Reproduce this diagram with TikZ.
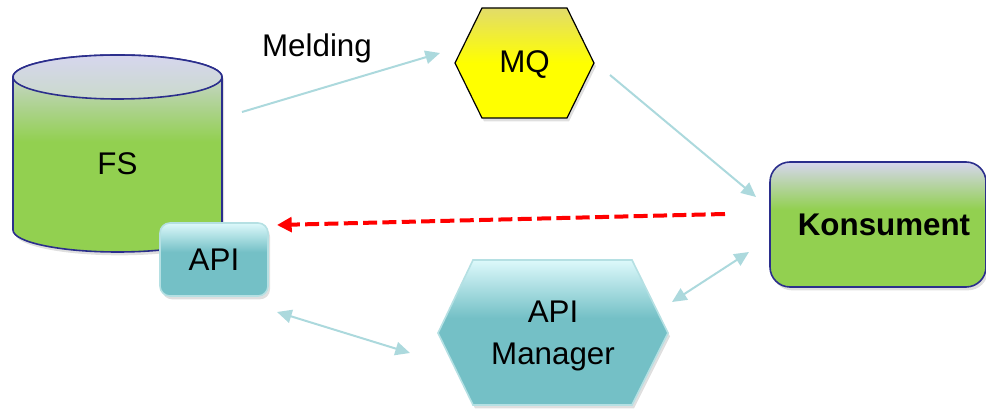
\documentclass[tikz,border=0pt]{standalone}
\usepackage{fontspec}
\setmainfont{Liberation Sans}
\usetikzlibrary{arrows.meta,shadows}
\definecolor{lav}{HTML}{D6D6EE}
\definecolor{lidb}{HTML}{CADACB}
\definecolor{grn}{HTML}{92D050}
\definecolor{navy}{HTML}{2B2E8C}
\definecolor{tealc}{HTML}{74C0C6}
\definecolor{lcyan}{HTML}{DDF9FB}
\definecolor{ylw}{HTML}{FFFF00}
\definecolor{ytop}{HTML}{E2DC6A}
\definecolor{conn}{HTML}{ACD9DD}
\definecolor{tealedge}{HTML}{B5E0E3}
\pgfdeclareverticalshading{greenfade}{100bp}{color(0bp)=(grn); color(53bp)=(grn); color(75bp)=(lav); color(100bp)=(lav)}
\pgfdeclareverticalshading{kfade}{100bp}{color(0bp)=(grn); color(56bp)=(grn); color(75bp)=(lav); color(100bp)=(lav)}
\pgfdeclareverticalshading{tealfade}{100bp}{color(0bp)=(tealc); color(55bp)=(tealc); color(75bp)=(lcyan); color(100bp)=(lcyan)}
\pgfdeclareverticalshading{yellowfade}{100bp}{color(0bp)=(ylw); color(50bp)=(ylw); color(75bp)=(ytop); color(100bp)=(ytop)}
\pgfdeclareverticalshading{lidfade}{100bp}{color(0bp)=(lidb); color(25bp)=(lidb); color(75bp)=(lav); color(100bp)=(lav)}
\tikzset{
  shad/.style={drop shadow={opacity=0.25, shadow xshift=1.5pt, shadow yshift=-2.5pt}},
  conn/.style={draw=conn, line width=1.5pt},
  tip/.tip={Triangle[length=11pt,width=10pt]},
  redtip/.tip={Triangle[length=11pt,width=11pt]},
  lbl/.style={inner sep=0pt},
}
\begin{document}
\begin{tikzpicture}[x=0.75pt,y=-0.75pt, font=\fontsize{23.5}{31.5}\selectfont]
\useasboundingbox (0,0) rectangle (986,409);
% cylinder FS
\path[shad, shading=greenfade, draw=navy, line width=1.2pt]
  (13,77) -- (13,230) arc[start angle=180, end angle=360, x radius=78.375pt, y radius=16.5pt]
  -- (222,77) arc[start angle=0, end angle=180, x radius=78.375pt, y radius=16.5pt] -- cycle;
\path[shading=lidfade, draw=navy, line width=1.2pt] (117.5,77) ellipse [x radius=78.375pt, y radius=16.5pt];
\node[lbl] (fs) at (117.5,164) {FS};
% API box
\node[lbl, shad, shading=tealfade, draw=tealedge, line width=1.2pt, rounded corners=7.5pt,
  minimum width=81pt, minimum height=54.75pt] (api) at (214,259.5) {API};
% MQ
\path[shad, shading=yellowfade, draw=black, line width=0.9pt]
  (455,63) -- (482,8) -- (567,8) -- (594,63) -- (567,118) -- (482,118) -- cycle;
\node[lbl] (mq) at (524.5,65) {MQ};
% Konsument
\path[shad, shading=kfade, draw=navy, line width=1.2pt, rounded corners=15pt]
  (770,162) rectangle (986,287);
\node[lbl, font=\fontsize{23.5}{31.5}\selectfont\bfseries] (kons) at (884,225) {Konsument};
% API Manager
\path[shad, shading=tealfade, draw=tealedge, line width=1.2pt]
  (438,333) -- (473,260) -- (632,260) -- (668,333) -- (632,405) -- (473,405) -- cycle;
\node[lbl, align=center] (apim) at (553,336) {API\\Manager};
% connectors
\coordinate (a1) at (242,112);
\coordinate (a2) at (440,53);
\coordinate (b1) at (610,75);
\coordinate (b2) at (756,197);
\coordinate (c1) at (277,312);
\coordinate (c2) at (410,353);
\coordinate (d1) at (672,302);
\coordinate (d2) at (749,252);
\coordinate (r1) at (725,214);
\coordinate (r2) at (277,225);
\draw[conn, -tip] (a1) -- (a2);
\node[lbl, anchor=base] (meld) at (317,57) {Melding};
\draw[conn, -tip] (b1) -- (b2);
\draw[conn, tip-tip] (c1) -- (c2);
\draw[conn, tip-tip] (d1) -- (d2);
\draw[red, line width=3pt, dash pattern=on 10.5pt off 4pt, -redtip] (r1) -- (r2);
\end{tikzpicture}
\end{document}
